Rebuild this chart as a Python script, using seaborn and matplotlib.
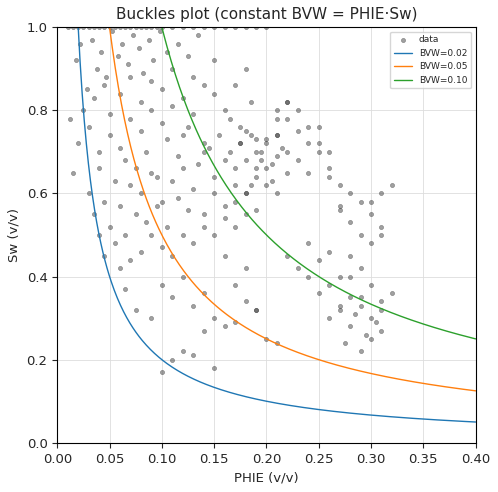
import numpy as np
import matplotlib
matplotlib.use("Agg")
import matplotlib.pyplot as plt
import seaborn as sns

phie = [0.01,0.015,0.02,0.025,0.03,0.035,0.04,0.045,0.05,0.055,0.06,0.065,0.07,0.075,0.08,0.085,0.09,0.095,0.10,0.11,0.12,0.13,0.14,0.15,0.16,0.17,0.18,0.19,0.20,
0.012,0.018,0.022,0.028,0.033,0.038,0.042,0.047,0.052,0.058,0.062,0.068,0.072,0.078,0.082,0.088,0.092,0.098,0.105,0.115,0.125,0.135,
0.015,0.02,0.025,0.03,0.035,0.04,0.045,0.05,0.06,0.07,0.08,0.09,0.10,0.11,0.12,0.13,0.14,0.15,
0.03,0.04,0.05,0.06,0.07,0.08,0.09,0.10,0.11,0.12,0.13,0.14,0.15,0.16,0.17,0.18,
0.035,0.045,0.055,0.065,0.075,0.085,0.095,0.105,0.115,0.125,0.135,0.145,0.155,0.165,0.175,0.185,
0.04,0.05,0.06,0.07,0.08,0.09,0.10,0.11,0.12,0.13,0.14,0.15,0.16,0.17,0.18,0.19,0.21,
0.045,0.055,0.065,0.075,0.085,0.095,0.105,0.115,0.125,0.14,0.15,0.16,0.17,0.18,0.19,0.20,0.21,0.22,
0.06,0.07,0.08,0.09,0.10,0.11,0.12,0.13,0.14,0.15,0.16,0.17,0.18,0.19,0.20,0.21,0.22,
0.165,0.17,0.175,0.18,0.185,0.19,0.195,0.20,0.205,0.21,0.215,0.22,0.185,0.19,0.195,0.2,0.205,0.175,0.18,0.21,
0.10,0.11,0.12,0.13,0.14,0.15,0.16,0.17,0.18,0.19,0.20,0.22,0.23,0.24,
0.22,0.23,0.24,0.25,0.26,0.27,0.28,0.29,0.30,0.31,0.32,0.23,0.24,0.25,0.26,0.27,0.28,0.29,0.30,0.31,
0.24,0.25,0.26,0.27,0.28,0.29,0.30,0.31,0.25,0.26,0.27,0.28,0.29,0.30,0.31,0.32,
0.26,0.27,0.28,0.29,0.30,0.31,0.275,0.285,0.295,0.305,0.29,0.30,0.31,0.28,
0.11,0.12,0.13,0.15,0.17,0.19,0.21,0.10,0.14,0.16,0.18,0.09,0.075,0.065,
0.22,0.23,0.24,0.25,0.21,0.26,0.27]
sw = [1.0,1.0,1.0,1.0,1.0,1.0,1.0,1.0,1.0,1.0,1.0,1.0,1.0,1.0,1.0,1.0,1.0,1.0,1.0,1.0,1.0,1.0,1.0,1.0,1.0,1.0,1.0,1.0,1.0,
0.78,0.92,0.96,0.85,0.97,0.90,0.94,0.88,0.99,0.93,0.96,0.91,0.98,0.95,0.89,0.97,0.92,0.99,0.94,0.96,0.93,0.98,
0.65,0.72,0.80,0.76,0.83,0.70,0.86,0.79,0.84,0.88,0.82,0.87,0.85,0.90,0.83,0.88,0.86,0.92,
0.60,0.66,0.74,0.71,0.78,0.75,0.80,0.77,0.81,0.74,0.79,0.72,0.84,0.80,0.86,0.90,
0.55,0.58,0.63,0.68,0.66,0.70,0.64,0.73,0.69,0.76,0.67,0.71,0.74,0.78,0.72,0.82,
0.50,0.52,0.57,0.62,0.60,0.65,0.58,0.63,0.66,0.61,0.70,0.64,0.68,0.62,0.75,0.70,0.80,
0.45,0.48,0.50,0.55,0.53,0.57,0.52,0.59,0.56,0.55,0.60,0.57,0.58,0.60,0.66,0.73,0.78,0.82,
0.42,0.44,0.46,0.50,0.47,0.45,0.50,0.48,0.52,0.50,0.54,0.52,0.55,0.56,0.62,0.60,0.70,
0.70,0.66,0.72,0.68,0.74,0.64,0.70,0.72,0.67,0.69,0.71,0.65,0.62,0.73,0.68,0.66,0.63,0.76,0.60,0.74,
0.38,0.35,0.40,0.33,0.36,0.30,0.28,0.38,0.34,0.32,0.25,0.45,0.42,0.40,
0.78,0.75,0.72,0.76,0.70,0.62,0.60,0.58,0.55,0.60,0.62,0.68,0.65,0.70,0.64,0.57,0.53,0.50,0.58,0.52,
0.48,0.44,0.46,0.40,0.45,0.42,0.48,0.50,0.36,0.38,0.33,0.40,0.35,0.38,0.34,0.36,
0.30,0.32,0.28,0.33,0.30,0.27,0.24,0.31,0.26,0.29,0.22,0.25,0.32,0.35,
0.20,0.22,0.21,0.18,0.29,0.32,0.24,0.17,0.27,0.45,0.42,0.30,0.32,0.37,
0.82,0.80,0.76,0.72,0.74,0.66,0.56]

bvw_vals = [0.02, 0.05, 0.10]
colors = ["#1f77b4", "#ff7f0e", "#2ca02c"]

sns.set_style("white")
fig, ax = plt.subplots(figsize=(4.98, 4.92), dpi=100)
sns.scatterplot(x=phie, y=sw, ax=ax, color="#444444", alpha=0.5, s=9,
                edgecolor="#222222", linewidth=0.4, label="data")
grid = np.linspace(0.005, 0.4, 400)
for b, c in zip(bvw_vals, colors):
    sns.lineplot(x=grid, y=b / grid, ax=ax, color=c, linewidth=1, label=f"BVW={b:.2f}")
ax.set_xlim(0, 0.4)
ax.set_ylim(0, 1)
ax.set_xticks(np.arange(0, 0.401, 0.05))
ax.set_xlabel("PHIE (v/v)", fontsize=9.5)
ax.set_ylabel("Sw (v/v)", fontsize=9.5)
ax.set_title("Buckles plot (constant BVW = PHIE·Sw)", fontsize=11)
ax.grid(True, color="#dddddd", linewidth=0.6)
for s in ax.spines.values():
    s.set_color("black")
ax.tick_params(axis="both", length=3.5, width=0.8, bottom=True, left=True, labelsize=9.5)
ax.legend(loc="upper right", fontsize=6.5, frameon=True)
fig.subplots_adjust(left=0.115, right=0.955, top=0.945, bottom=0.1)
fig.savefig("out.png", dpi=100)
